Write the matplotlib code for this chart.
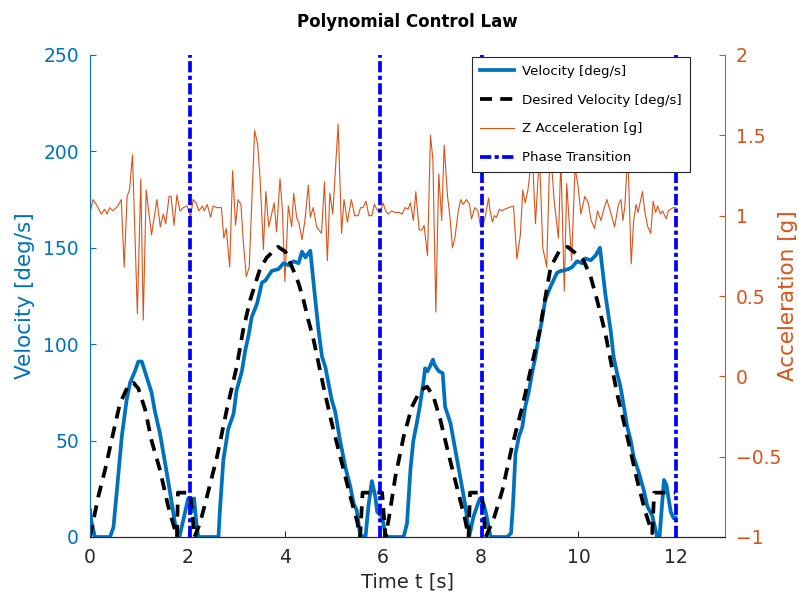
import numpy as np
import matplotlib
matplotlib.use("Agg")
import matplotlib.pyplot as plt
from matplotlib.ticker import FuncFormatter

# measured velocity [deg/s]
vel_t = [0.00, 0.03, 0.10, 0.41, 0.48, 0.55, 0.65, 0.75, 0.82, 0.92, 0.99, 1.06, 1.16, 1.26, 1.33,
         1.43, 1.54, 1.64, 1.74, 1.83, 1.93, 2.01, 2.08, 2.13, 2.19, 2.22, 2.63, 2.66, 2.73, 2.83,
         2.94, 3.00, 3.11, 3.18, 3.25, 3.31, 3.42, 3.52, 3.59, 3.72, 3.86, 3.96, 4.06, 4.17, 4.27,
         4.34, 4.41, 4.51, 4.60, 4.68, 4.75, 4.82, 4.88, 4.95, 5.02, 5.12, 5.23, 5.33, 5.40, 5.46,
         5.53, 5.64, 5.70, 5.77, 5.84, 5.88, 5.98, 6.05, 6.10, 6.42, 6.49, 6.56, 6.62, 6.69, 6.76,
         6.83, 6.86, 6.91, 6.97, 7.02, 7.06, 7.14, 7.22, 7.27, 7.38, 7.48, 7.58, 7.68, 7.77, 7.85,
         7.98, 8.06, 8.11, 8.20, 8.54, 8.62, 8.66, 8.71, 8.78, 8.85, 8.91, 8.98, 9.05, 9.12, 9.19,
         9.25, 9.32, 9.43, 9.56, 9.63, 9.66, 9.80, 9.87, 9.97, 10.08, 10.14, 10.25, 10.35, 10.44,
         10.55, 10.66, 10.72, 10.79, 10.86, 10.93, 11.00, 11.07, 11.13, 11.24, 11.34, 11.41, 11.51,
         11.58, 11.61, 11.66, 11.75, 11.80, 11.89, 11.95, 11.99]
vel = [14, 8, 0, 0, 5, 24, 52, 71, 80, 86, 91, 91, 83, 75, 65,
       54, 38, 23, 7, 0, 11, 20, 13, 20, 4, 0, 0, 14, 40, 56,
       64, 76, 86, 97, 105, 114, 121, 132, 133, 138, 139, 142, 141, 143, 142,
       148, 145, 148.5, 126, 107, 93.5, 88, 80, 71, 65, 50, 36, 26, 17, 14,
       1, 0, 16, 29, 21, 13, 10.5, 1, 0, 0, 7, 35, 50, 59, 69,
       81, 87.5, 86, 89, 92, 89, 86, 85, 67.5, 59, 45, 31, 17, 1, 10.5,
       20, 17, 12, 0, 0, 2, 17, 43, 52, 57, 67.5, 75, 85, 93.5, 104,
       112, 123, 130, 137, 138, 138, 139, 140, 143, 142, 144.5, 143.5, 146, 150,
       126, 107, 93.5, 85, 78, 67.5, 57, 50, 41.6, 33, 24, 16, 11,
       3.6, 0, 0, 29.6, 27, 13, 9.7, 10]

# desired velocity [deg/s]
des_t = [0.00, 0.17, 0.31, 0.44, 0.61, 0.79, 0.89, 0.99, 1.13, 1.26, 1.43, 1.60, 1.78, 1.80, 2.05,
         2.14, 2.25, 2.36, 2.60, 2.80, 3.00, 3.14, 3.28, 3.48, 3.62, 3.85, 4.00, 4.17, 4.27, 4.37,
         4.47, 4.58, 4.78, 4.95, 5.16, 5.33, 5.47, 5.53, 5.58, 5.98, 6.05, 6.12, 6.25, 6.42, 6.59,
         6.76, 6.90, 7.03, 7.17, 7.34, 7.51, 7.68, 7.75, 7.78, 8.02, 8.10, 8.26, 8.44, 8.64, 8.85,
         9.05, 9.19, 9.43, 9.60, 9.78, 9.95, 10.10, 10.25, 10.38, 10.55, 10.79, 11.00, 11.20, 11.37,
         11.51, 11.55, 11.98]
des = [0, 21, 35, 50, 69, 79, 80, 77, 66, 50, 35, 16, 0, 23, 23,
       0, 7, 17.5, 41.6, 66, 88, 108, 123, 139, 145, 150.5, 148, 138, 131.6, 123,
       112.5, 102, 78, 59, 38, 21, 8, 0, 23, 23, 0, 10, 31, 52, 67.5,
       76, 78, 73, 61, 43, 26, 9, 0, 23, 23, 0, 9, 24, 47, 67.5,
       90, 105, 140, 148, 150.5, 147, 143.6, 135, 123, 105.6, 74.5, 52, 29.6, 13,
       2, 23, 23]

# z acceleration [g]
acc_t = [0.01, 0.06, 0.13, 0.23, 0.30, 0.35, 0.40, 0.47, 0.57, 0.64, 0.70, 0.76, 0.81, 0.87, 0.97,
         1.04, 1.09, 1.15, 1.26, 1.37, 1.44, 1.50, 1.55, 1.62, 1.66, 1.72, 1.78, 1.84, 1.91, 1.99,
         2.06, 2.11, 2.17, 2.23, 2.30, 2.34, 2.40, 2.47, 2.52, 2.59, 2.69, 2.74, 2.79, 2.86, 2.92,
         2.98, 3.03, 3.09, 3.14, 3.20, 3.26, 3.37, 3.43, 3.48, 3.55, 3.60, 3.66, 3.77, 3.82, 3.89,
         3.94, 3.99, 4.06, 4.13, 4.17, 4.23, 4.28, 4.34, 4.40, 4.47, 4.51, 4.57, 4.64, 4.74, 4.80,
         4.86, 4.91, 4.97, 5.08, 5.15, 5.20, 5.27, 5.35, 5.42, 5.49, 5.54, 5.59, 5.65, 5.71, 5.77,
         5.82, 5.89, 5.95, 6.00, 6.05, 6.11, 6.17, 6.24, 6.33, 6.39, 6.45, 6.51, 6.56, 6.62, 6.67,
         6.74, 6.79, 6.84, 6.91, 6.97, 7.02, 7.08, 7.14, 7.20, 7.25, 7.32, 7.37, 7.42, 7.47, 7.54,
         7.59, 7.64, 7.71, 7.77, 7.81, 7.88, 7.94, 7.99, 8.05, 8.10, 8.16, 8.19, 8.24, 8.28, 8.32,
         8.38, 8.44, 8.49, 8.57, 8.67, 8.74, 8.81, 8.86, 8.91, 8.96, 8.99, 9.05, 9.12, 9.20, 9.27,
         9.35, 9.42, 9.50, 9.59, 9.64, 9.71, 9.76, 9.86, 9.93, 9.99, 10.05, 10.13, 10.20, 10.26,
         10.33, 10.39, 10.46, 10.51, 10.58, 10.65, 10.74, 10.82, 10.87, 10.91, 10.95, 11.01, 11.08,
         11.13, 11.18, 11.22, 11.31, 11.36, 11.42, 11.48, 11.53, 11.58, 11.62, 11.68, 11.72, 11.80,
         11.84, 11.89, 11.94, 11.99]
acc = [1.03, 1.10, 1.07, 1.01, 1.04, 1.01, 1.05, 1.03, 1.06, 1.10, 0.68, 1.12, 1.16, 1.38, 0.39,
       1.23, 0.35, 1.16, 0.88, 1.10, 0.93, 1.01, 0.95, 1.12, 1.12, 0.94, 1.13, 1.03, 1.05, 1.06,
       0.99, 1.10, 1.08, 1.03, 1.06, 1.03, 1.07, 0.99, 1.06, 1.05, 1.05, 0.86, 0.92, 0.68, 1.28,
       0.94, 1.10, 1.07, 0.83, 0.62, 0.68, 1.53, 1.45, 1.24, 0.79, 1.15, 0.93, 1.08, 0.90, 1.23,
       1.03, 0.59, 1.06, 0.93, 1.14, 0.99, 0.95, 0.85, 0.97, 1.19, 0.99, 1.05, 0.93, 0.89, 1.21,
       0.72, 1.14, 1.01, 1.57, 0.89, 1.10, 0.96, 1.10, 1.00, 1.00, 1.05, 1.05, 1.09, 1.00, 1.00,
       1.07, 1.03, 1.03, 1.08, 1.03, 1.01, 1.03, 1.02, 1.02, 1.01, 1.05, 1.04, 1.08, 0.97, 1.15,
       0.91, 0.91, 0.94, 0.75, 1.50, 1.35, 0.40, 1.26, 0.97, 1.44, 1.12, 0.99, 0.80, 0.86, 1.03,
       1.10, 1.07, 1.10, 1.07, 0.98, 1.05, 1.03, 0.94, 0.94, 1.01, 1.11, 1.03, 0.96, 1.00, 0.99,
       1.04, 1.03, 1.04, 1.05, 1.06, 0.73, 0.88, 1.16, 1.08, 1.15, 1.22, 1.42, 0.95, 1.38, 0.80,
       0.68, 1.45, 1.10, 0.86, 1.35, 0.53, 1.20, 0.72, 1.30, 1.19, 1.01, 1.12, 1.08, 0.97,
       0.92, 1.03, 0.97, 1.03, 1.10, 1.03, 0.93, 1.07, 1.10, 0.97, 1.06, 1.40, 0.70,
       0.97, 1.07, 1.02, 1.15, 1.02, 0.93, 0.89, 1.09, 1.02, 1.06, 1.01, 1.03, 0.98,
       1.03, 1.04, 1.05, 1.05]

phase_t = [2.05, 5.94, 8.03, 12.0]

c_vel = '#0072BD'
c_acc = '#D95319'
c_axis = '#262626'

fig = plt.figure(figsize=(7.99, 5.99), dpi=100)
ax = fig.add_axes([90/799, 62/599, 635/799, 482/599])
ax2 = ax.twinx()
ax.set_zorder(ax2.get_zorder() + 1)
ax.patch.set_visible(False)

l_acc, = ax2.plot(acc_t, acc, color=c_acc, lw=0.8, label='Z Acceleration [g]')
l_vel, = ax.plot(vel_t, vel, color=c_vel, lw=2.7, label='Velocity [deg/s]')
l_des, = ax.plot(des_t, des, color='k', lw=2.7, ls=(0, (3.2, 2.2)), label='Desired Velocity [deg/s]')
ph_lines = []
for p in phase_t:
    ph_lines.append(ax.axvline(p, color='#0000FF', lw=2.7, ls=(0, (3.0, 0.9, 1.1, 0.9))))
l_ph = ph_lines[0]
l_ph.set_label('Phase Transition')

ax.set_xlim(0, 13)
ax.set_ylim(0, 250)
ax2.set_ylim(-1, 2)
ax.set_xticks(range(0, 13, 2))
ax.set_yticks(range(0, 251, 50))
ax2.set_yticks([-1, -0.5, 0, 0.5, 1, 1.5, 2])
ax2.yaxis.set_major_formatter(FuncFormatter(lambda v, p: ('%g' % v).replace('-', '\u2212')))

for a in (ax, ax2):
    a.spines['top'].set_visible(False)
    a.spines['left'].set_color(c_vel)
    a.spines['right'].set_color(c_acc)
    a.spines['bottom'].set_color(c_axis)
ax2.spines['left'].set_visible(False)
ax.spines['right'].set_visible(False)

ax.tick_params(axis='x', direction='in', length=4.5, colors=c_axis, labelsize=13.5, pad=8)
ax.tick_params(axis='y', direction='in', length=4.5, colors=c_vel, labelsize=13.5, pad=8)
ax2.tick_params(axis='y', direction='in', length=4.5, colors=c_acc, labelsize=13.5, pad=8)

ax.set_xlabel('Time t [s]', fontsize=14, color=c_axis, labelpad=4)
ax.set_ylabel('Velocity [deg/s]', fontsize=15.5, color=c_vel, labelpad=6)
ax2.set_ylabel('Acceleration [g]', fontsize=15.5, color=c_acc)
ax2.yaxis.set_label_coords(1.083, 0.5)
ax.set_title('Polynomial Control Law', fontsize=12, fontweight='bold', pad=20)

leg = ax.legend(handles=[l_vel, l_des, l_acc, l_ph], loc='upper right',
                bbox_to_anchor=(690/799, 1 - 57/599), bbox_transform=fig.transFigure,
                borderaxespad=0, fontsize=9.6, fancybox=False, framealpha=1,
                edgecolor=c_axis, handlelength=2.6, handletextpad=0.6,
                labelspacing=1.18, borderpad=0.6)
leg.get_frame().set_linewidth(0.8)

fig.savefig('out.png', dpi=100)
